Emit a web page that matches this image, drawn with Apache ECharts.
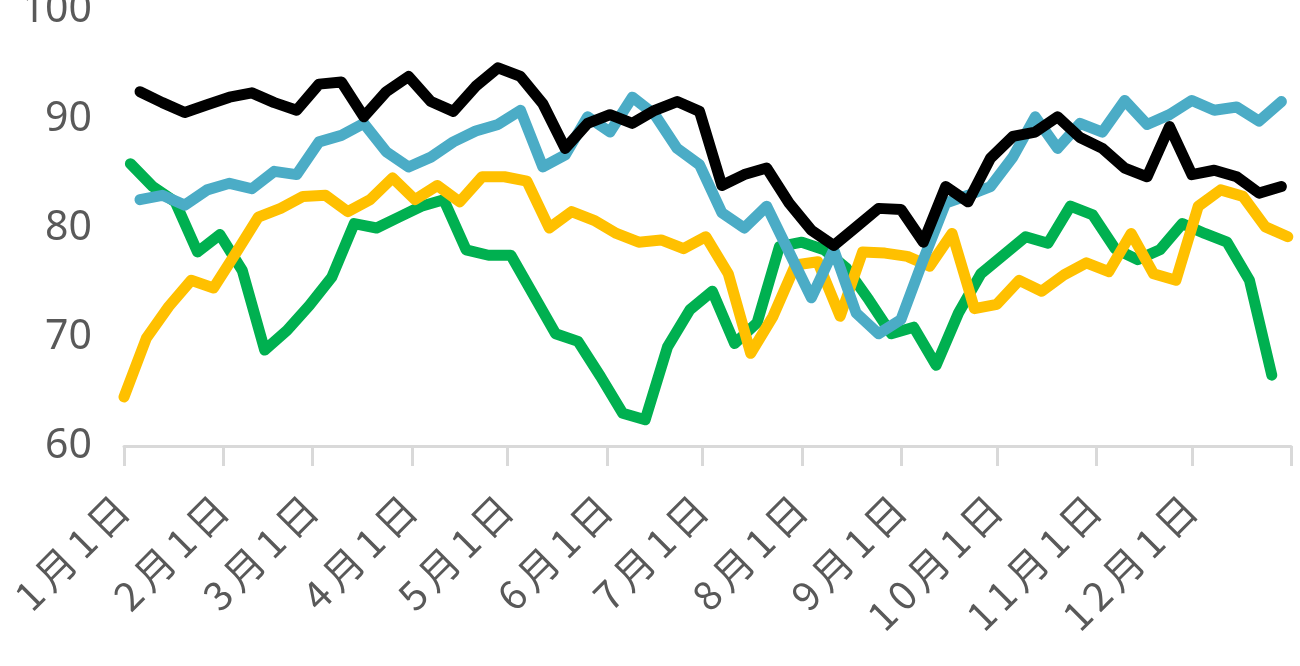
<!DOCTYPE html>
<html>
<head>
<meta charset="utf-8">
<script src="https://cdn.jsdelivr.net/npm/echarts@6/dist/echarts.min.js"></script>
<style>
  html, body { margin: 0; padding: 0; background: #fff; }
  #chart { width: 1300px; height: 666px; }
</style>
</head>
<body>
<div id="chart"></div>
<script>
// 月初在一年中的天数，及对应刻度文字
var monthStarts = [0, 31, 59, 90, 120, 151, 181, 212, 243, 273, 304, 334];
var monthLabels = ['1月1日', '2月1日', '3月1日', '4月1日', '5月1日', '6月1日',
  '7月1日', '8月1日', '9月1日', '10月1日', '11月1日', '12月1日'];
var yearEnd = 365;
var yMin = 60, yMax = 100, yStep = 10;

// 每周一个点：首个点所在的天
var greenStart = 2, yellowStart = 0, blueStart = 5, blackStart = 5;

var greenValues = [85.9, 83.8, 82.4, 77.8, 79.4, 76.1, 68.8, 70.6, 72.9, 75.5,
  80.4, 80.0, 81.0, 82.0, 82.6, 78.0, 77.5, 77.5, 73.9, 70.3,
  69.6, 66.4, 63.0, 62.4, 69.1, 72.5, 74.2, 69.4, 71.3, 78.3,
  78.7, 78.0, 76.3, 73.4, 70.3, 70.9, 67.4, 72.2, 75.8, 77.5,
  79.2, 78.6, 82.0, 81.2, 78.1, 77.1, 78.0, 80.4, 79.5, 78.7,
  75.2, 66.5];
var yellowValues = [64.5, 69.9, 72.8, 75.2, 74.5, 77.7, 81.0, 81.8, 82.9, 83.0,
  81.5, 82.6, 84.6, 82.6, 83.9, 82.4, 84.7, 84.7, 84.3, 80.0,
  81.5, 80.7, 79.5, 78.7, 78.9, 78.1, 79.2, 75.8, 68.5, 71.9,
  76.6, 76.9, 71.9, 77.8, 77.7, 77.4, 76.5, 79.5, 72.6, 73.0,
  75.2, 74.2, 75.7, 76.8, 76.0, 79.5, 75.8, 75.2, 82.0, 83.5,
  82.9, 80.1, 79.2];
var blueValues = [82.6, 83.0, 82.1, 83.5, 84.1, 83.6, 85.2, 84.9, 87.9, 88.5,
  89.6, 87.0, 85.6, 86.5, 87.9, 88.9, 89.5, 90.8, 85.6, 86.7,
  90.2, 88.8, 92.0, 90.4, 87.3, 85.8, 81.4, 80.0, 82.0, 77.8,
  73.6, 78.0, 72.2, 70.3, 71.6, 77.1, 82.3, 83.0, 83.8, 86.5,
  90.2, 87.3, 89.6, 88.8, 91.7, 89.5, 90.4, 91.7, 90.8, 91.1,
  89.8, 91.6];
var blackValues = [92.5, 91.5, 90.6, 91.3, 92.0, 92.4, 91.5, 90.8, 93.2, 93.4,
  90.2, 92.5, 93.9, 91.6, 90.7, 93.0, 94.7, 93.9, 91.4, 87.3,
  89.6, 90.4, 89.6, 90.8, 91.6, 90.7, 83.9, 84.9, 85.5, 82.3,
  79.8, 78.4, 80.1, 81.8, 81.7, 78.7, 83.8, 82.4, 86.4, 88.4,
  88.8, 90.2, 88.3, 87.3, 85.5, 84.7, 89.3, 84.9, 85.3, 84.7,
  83.2, 83.8];

function weekly(start, values) {
  return values.map(function (v, i) { return [start + 7 * i, v]; });
}

function line(data, color) {
  return {
    type: 'line',
    data: data,
    showSymbol: false,
    symbol: 'none',
    lineStyle: { color: color, width: 11, cap: 'round', join: 'round' },
    itemStyle: { color: color }
  };
}

var myChart = echarts.init(document.getElementById('chart'));
var option = {
  animation: false,
  backgroundColor: '#fff',
  grid: { left: 124, right: 9, top: 10, bottom: 220, outerBoundsMode: 'none' },
  xAxis: {
    type: 'value',
    min: 0,
    max: yearEnd,
    splitLine: { show: false },
    axisLine: { lineStyle: { color: '#d9d9d9', width: 3 } },
    axisTick: {
      customValues: monthStarts.concat([yearEnd]),
      length: 20,
      lineStyle: { color: '#d9d9d9', width: 3 }
    },
    axisLabel: {
      customValues: monthStarts,
      rotate: 45,
      margin: 54,
      color: '#595959',
      // 逐字拆开，字间留空
      formatter: function (v) {
        var s = monthLabels[monthStarts.indexOf(v)];
        return s.split('').map(function (ch) { return '{c|' + ch + '}'; }).join('');
      },
      rich: {
        c: {
          fontSize: 40,
          color: '#595959',
          fontFamily: 'Noto Sans CJK SC',
          padding: [0, 3]
        }
      }
    }
  },
  yAxis: {
    type: 'value',
    min: yMin,
    max: yMax,
    interval: yStep,
    splitLine: { show: false },
    axisLine: { show: false },
    axisTick: { show: false },
    axisLabel: {
      margin: 32,
      fontSize: 41,
      color: '#595959',
      fontFamily: 'Noto Sans'
    }
  },
  series: [
    line(weekly(greenStart, greenValues), '#00b050'),
    line(weekly(yellowStart, yellowValues), '#ffc000'),
    line(weekly(blueStart, blueValues), '#4bacc6'),
    line(weekly(blackStart, blackValues), '#000000')
  ]
};
myChart.setOption(option);
window.onresize = myChart.resize;
</script>
</body>
</html>
